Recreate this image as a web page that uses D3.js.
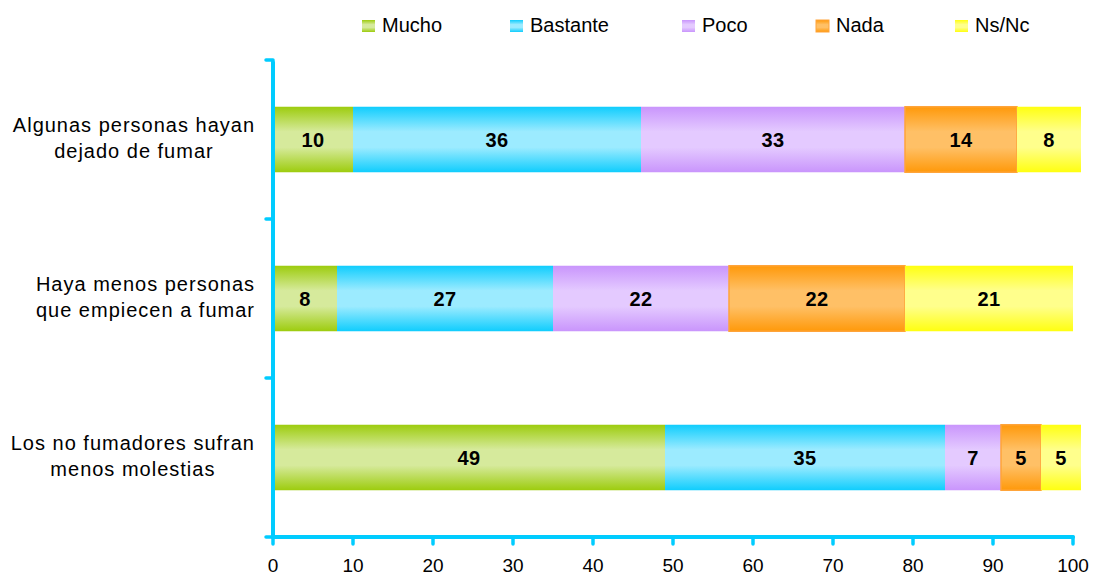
<!DOCTYPE html>
<html>
<head>
<meta charset="utf-8">
<script src="https://cdn.jsdelivr.net/npm/d3@7"></script>
<style>
  body { margin: 0; background: #fff; }
  text { font-family: "Liberation Sans", Arial, sans-serif; fill: #000; }
</style>
</head>
<body>
<script>
const width = 1094;
const height = 577;

const categories = [
    ["Algunas personas hayan", "dejado de fumar"],
    ["Haya menos personas", "que empiecen a fumar"],
    ["Los no fumadores sufran", "menos molestias"]
];
const seriesNames = ["Mucho", "Bastante", "Poco", "Nada", "Ns/Nc"];
const mucho = [10, 8, 49];
const bastante = [36, 27, 35];
const poco = [33, 22, 7];
const nada = [14, 22, 5];
const nsnc = [8, 21, 5];
const xTicks = [0, 10, 20, 30, 40, 50, 60, 70, 80, 90, 100];

// edge / centre colours of the bar gradients
const edgeColors = ["#9dcc0e", "#10cdfd", "#c995fc", "#ff990a", "#ffff10"];
const midColors = ["#d6ea9c", "#9cebff", "#e4caff", "#ffc066", "#ffff8c"];

const table = categories.map((c, i) => ({
    key: i,
    Mucho: mucho[i], Bastante: bastante[i], Poco: poco[i], Nada: nada[i], "Ns/Nc": nsnc[i]
}));

const stacked = d3.stack().keys(seriesNames)(table);

const svg = d3.select("body").append("svg")
    .attr("width", width)
    .attr("height", height);

const defs = svg.append("defs");
seriesNames.forEach((s, i) => {
    const g = defs.append("linearGradient")
        .attr("id", "grad" + i)
        .attr("x1", 0).attr("y1", 0).attr("x2", 0).attr("y2", 1);
    g.append("stop").attr("offset", "0%").attr("stop-color", edgeColors[i]);
    g.append("stop").attr("offset", "38%").attr("stop-color", midColors[i]);
    g.append("stop").attr("offset", "62%").attr("stop-color", midColors[i]);
    g.append("stop").attr("offset", "100%").attr("stop-color", edgeColors[i]);
});

const x = d3.scaleLinear()
    .domain([0, 100])
    .range([273, 1073]);

const y = d3.scaleBand()
    .domain(d3.range(categories.length))
    .range([60, 537])
    .paddingInner(0.588)
    .paddingOuter(0.294);

// bars
const layer = svg.append("g")
    .selectAll("g")
    .data(stacked)
    .enter()
    .append("g");

layer.selectAll("rect")
    .data(d => d)
    .enter()
    .append("rect")
    .attr("fill", function() { return `url(#grad${seriesNames.indexOf(d3.select(this.parentNode).datum().key)})`; })
    .attr("x", d => x(d[0]))
    .attr("y", (d, i) => y(i))
    .attr("width", d => x(d[1]) - x(d[0]))
    .attr("height", y.bandwidth());

// Nada has an orange outline
layer.filter(d => d.key === "Nada")
    .selectAll("rect")
    .attr("stroke", "#ffa43a")
    .attr("stroke-width", 1.5);

// value labels
layer.selectAll("text")
    .data(d => d)
    .enter()
    .append("text")
    .attr("x", d => (x(d[0]) + x(d[1])) / 2)
    .attr("y", (d, i) => y(i) + y.bandwidth() / 2 + 7)
    .attr("text-anchor", "middle")
    .style("font-size", "20px")
    .style("font-weight", "bold")
    .style("letter-spacing", "0.5px")
    .text(d => d[1] - d[0]);

// axes
const axisColor = "#00ccff";
const axisG = svg.append("g").attr("stroke", axisColor).attr("stroke-linecap", "round");

axisG.append("line")
    .attr("x1", x(0)).attr("x2", x(100))
    .attr("y1", 537).attr("y2", 537)
    .attr("stroke-width", 4);

axisG.append("line")
    .attr("x1", x(0)).attr("x2", x(0))
    .attr("y1", 62).attr("y2", 537)
    .attr("stroke-width", 4);

axisG.selectAll(".xt")
    .data(xTicks)
    .enter()
    .append("line")
    .attr("x1", d => x(d)).attr("x2", d => x(d))
    .attr("y1", 537).attr("y2", 544)
    .attr("stroke-width", 3.5);

const yBounds = d3.range(categories.length + 1).map(i => 537 - i * (477 / categories.length));
axisG.selectAll(".yt")
    .data(yBounds)
    .enter()
    .append("line")
    .attr("x1", x(0) - 7).attr("x2", x(0))
    .attr("y1", d => d).attr("y2", d => d)
    .attr("stroke-width", 3.5);

svg.append("g")
    .selectAll("text")
    .data(xTicks)
    .enter()
    .append("text")
    .attr("x", d => x(d))
    .attr("y", 572)
    .attr("text-anchor", "middle")
    .style("font-size", "19px")
    .text(d => d);

// category labels: block right-aligned at 255, lines centred in the block
const catText = svg.append("g")
    .selectAll("text")
    .data(categories)
    .enter()
    .append("text")
    .attr("text-anchor", "middle")
    .style("font-size", "20px")
    .style("letter-spacing", "1px")
    .attr("y", (d, i) => y(i) + y.bandwidth() / 2 - 7.5);

catText.selectAll("tspan")
    .data(d => d)
    .enter()
    .append("tspan")
    .attr("dy", (d, j) => j === 0 ? 0 : 26)
    .text(d => d);

catText.each(function() {
    const t = d3.select(this);
    let maxW = 0;
    t.selectAll("tspan").each(function() {
        maxW = Math.max(maxW, this.getComputedTextLength());
    });
    t.selectAll("tspan").attr("x", 255 - maxW / 2);
});

// legend
const legendX = [362, 510, 682, 816, 955];
const legend = svg.append("g")
    .selectAll("g")
    .data(seriesNames)
    .enter()
    .append("g")
    .attr("transform", (d, i) => `translate(${legendX[i]}, 20)`);

legend.append("rect")
    .attr("width", 13)
    .attr("height", 12)
    .attr("fill", (d, i) => `url(#grad${i})`)
    .attr("stroke", d => d === "Nada" ? "#ffa43a" : "none");

legend.append("text")
    .attr("x", 20)
    .attr("y", 12)
    .style("font-size", "20px")
    .text(d => d);
</script>
</body>
</html>
